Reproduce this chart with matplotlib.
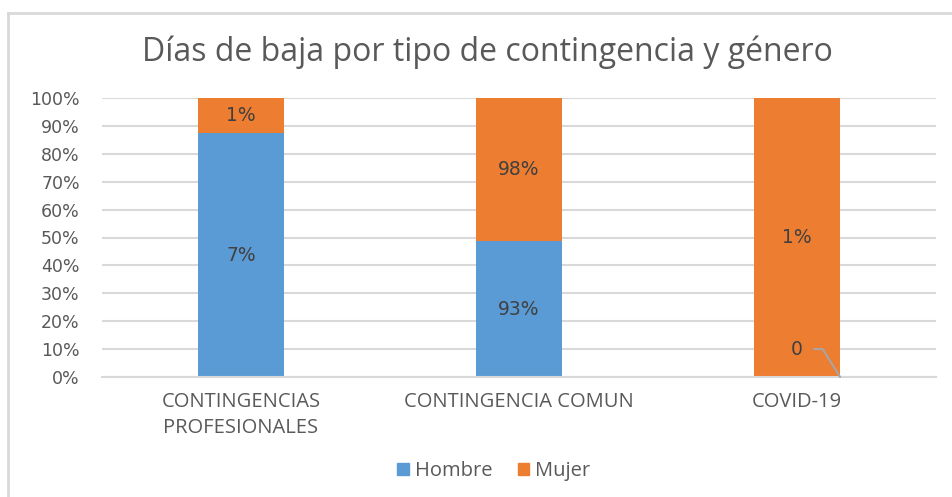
import numpy as np
import matplotlib.pyplot as plt
from matplotlib.lines import Line2D
from matplotlib.patches import Patch

plt.rcParams["axes.unicode_minus"] = False

# data (share of days, in %) and the labels shown on the bars
categories = ["CONTINGENCIAS\nPROFESIONALES", "CONTINGENCIA COMUN", "COVID-19"]
hombre = [87.4, 48.7, 0.0]
mujer = [12.6, 51.3, 100.0]
hombre_lbl = ["7%", "93%", "0"]
mujer_lbl = ["1%", "98%", "1%"]
series_names = ["Hombre", "Mujer"]

BLUE = "#5B9BD5"
ORANGE = "#ED7D31"
GRID = "#D9D9D9"
TXT = "#595959"
NARROW = ["Open Sans", "DejaVu Sans"]

fig = plt.figure(figsize=(9.52, 4.97), dpi=100)
ax = fig.add_axes([102 / 952, (497 - 377) / 497, (936 - 102) / 952, (377 - 98) / 497])

# chart frame (left and top edges visible)
fig.add_artist(Line2D([8 / 952, 8 / 952], [0, (497 - 13) / 497], transform=fig.transFigure,
                      color=GRID, lw=2))
fig.add_artist(Line2D([8 / 952, 1], [(497 - 13) / 497, (497 - 13) / 497],
                      transform=fig.transFigure, color=GRID, lw=2))

x = np.arange(len(categories))
w = 0.31
ax.bar(x, hombre, w, color=BLUE, label=series_names[0], zorder=2)
ax.bar(x, mujer, w, bottom=hombre, color=ORANGE, label=series_names[1], zorder=2)

for i in range(len(categories)):
    if hombre[i] > 0:
        ax.text(x[i], hombre[i] / 2, hombre_lbl[i], ha="center", va="center",
                fontsize=13.5, color="#404040", zorder=3)
    else:
        ax.annotate(hombre_lbl[i], xy=(x[i] + w / 2, 0), xytext=(x[i], 10),
                    ha="center", va="center", fontsize=13.5, color="#404040", zorder=3,
                    arrowprops=dict(arrowstyle="-", color="#A6A6A6", lw=1.5,
                                    connectionstyle="angle,angleA=0,angleB=122,rad=0",
                                    shrinkA=6, shrinkB=0))
    ax.text(x[i], hombre[i] + mujer[i] / 2, mujer_lbl[i], ha="center", va="center",
            fontsize=13.5, color="#404040", zorder=3)

ax.set_xlim(-0.5, len(categories) - 0.5)
ax.set_ylim(0, 100)
ax.set_yticks(np.arange(0, 101, 10))
ax.set_yticklabels([f"{v}%" for v in range(0, 101, 10)], fontsize=12.5, color=TXT)
ax.set_xticks(x)
ax.set_xticklabels(categories, fontsize=14.5, color=TXT, family=NARROW, linespacing=1.35)
ax.tick_params(length=0, pad=11)
ax.tick_params(axis="y", pad=16)
ax.yaxis.grid(True, color=GRID, lw=1.5, zorder=0)
ax.set_axisbelow(True)
for s in ["top", "right", "left"]:
    ax.spines[s].set_visible(False)
ax.spines["bottom"].set_color(GRID)
ax.spines["bottom"].set_linewidth(1.5)

fig.text(487 / 952, (497 - 52) / 497, "Días de baja por tipo de contingencia y género",
         ha="center", va="center", fontsize=23, color=TXT, family=NARROW)

handles = [Patch(color=BLUE), Patch(color=ORANGE)]
fig.legend(handles, series_names, loc="center", bbox_to_anchor=(494 / 952, (497 - 471) / 497),
           ncol=2, frameon=False, handlelength=0.55, handleheight=0.55, handletextpad=0.3,
           columnspacing=1.3, prop={"family": NARROW, "size": 14.5}, labelcolor=TXT)

fig.savefig("out.png", dpi=100)
